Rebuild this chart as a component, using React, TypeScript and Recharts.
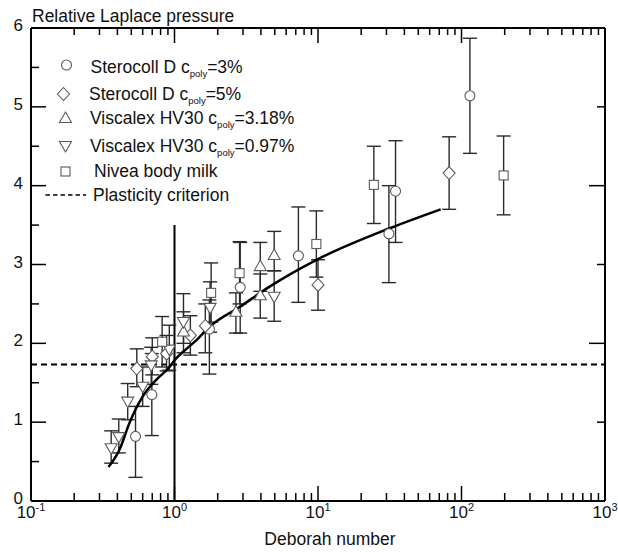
import React from 'react';
import {
  ComposedChart,
  Scatter,
  Line,
  XAxis,
  YAxis,
  ErrorBar,
  ReferenceLine,
  Legend,
} from 'recharts';

// ---------- data ----------
// Sterocoll D c_poly = 3% (circles)
const stero3X = [0.535, 0.695, 1.75, 2.87, 7.3, 31.2, 34.7, 114.5];
const stero3Y = [0.82, 1.35, 2.18, 2.71, 3.11, 3.39, 3.93, 5.14];
const stero3Lo = [0.3, 0.83, 1.61, 2.13, 2.52, 2.77, 3.28, 4.41];
const stero3Hi = [1.2, 1.87, 2.55, 3.28, 3.73, 4.0, 4.57, 5.87];

// Sterocoll D c_poly = 5% (diamonds)
const stero5X = [0.546, 0.7, 0.88, 1.29, 1.64, 10.0, 82];
const stero5Y = [1.68, 1.83, 1.87, 2.1, 2.22, 2.74, 4.16];
const stero5Lo = [1.45, 1.6, 1.65, 1.85, 1.88, 2.42, 3.7];
const stero5Hi = [1.93, 2.07, 2.1, 2.35, 2.5, 3.06, 4.62];

// Viscalex HV30 c_poly = 3.18% (up triangles)
const visc318X = [1.155, 2.68, 3.96, 3.96, 4.95];
const visc318Y = [2.15, 2.4, 2.98, 2.61, 3.12];
const visc318Lo = [1.88, 2.13, 2.66, 2.32, 2.92];
const visc318Hi = [2.4, 2.64, 3.28, 2.88, 3.42];

// Viscalex HV30 c_poly = 0.97% (down triangles)
const visc097X = [0.362, 0.409, 0.472, 0.6, 0.688, 0.92, 1.155, 1.77, 4.95];
const visc097Y = [0.67, 0.81, 1.26, 1.45, 1.72, 1.92, 2.27, 2.45, 2.59];
const visc097Lo = [0.48, 0.61, 1.03, 1.2, 1.48, 1.66, 2.0, 2.14, 2.28];
const visc097Hi = [0.89, 1.04, 1.49, 1.7, 1.95, 2.23, 2.63, 2.78, 2.92];

// Nivea body milk (squares)
const niveaX = [0.82, 1.8, 2.84, 9.74, 24.5, 196.6];
const niveaY = [2.02, 2.64, 2.89, 3.26, 4.01, 4.13];
const niveaLo = [1.7, 2.27, 2.5, 2.84, 3.52, 3.63];
const niveaHi = [2.34, 3.02, 3.29, 3.68, 4.5, 4.63];

// fitted curve
const fitX = [0.3465, 0.4136, 0.4855, 0.598, 0.749, 0.923, 0.984, 1.212, 1.423, 1.754, 2.84, 4.6, 9.78, 31.6, 71.6];
const fitY = [0.43, 0.65, 0.99, 1.32, 1.54, 1.7, 1.77, 1.93, 2.04, 2.21, 2.46, 2.72, 3.06, 3.46, 3.7];

// plasticity criterion and De = 1 line
const plasticityCriterion = 1.73;
const deborahOne = 1;
const deborahOneTop = 3.5;

// ticks
const xMajor = [0.1, 1, 10, 100, 1000];
const xMinorMultipliers = [2, 3, 4, 5, 6, 7, 8, 9];
const yLeftTicks = [0, 0.5, 1, 1.5, 2, 2.5, 3, 3.5, 4, 4.5, 5, 5.5, 6];
const yRightTicks = [0, 1, 2, 3, 4, 5, 6];

const xTicks: number[] = [];
xMajor.forEach((d, i) => {
  xTicks.push(d);
  if (i < xMajor.length - 1) xMinorMultipliers.forEach((m) => xTicks.push(+(d * m).toPrecision(3)));
});

const mk = (xs: number[], ys: number[], lo: number[], hi: number[]) =>
  xs.map((x, i) => ({ x, y: ys[i], err: [ys[i] - lo[i], hi[i] - ys[i]] }));

const stero3 = mk(stero3X, stero3Y, stero3Lo, stero3Hi);
const stero5 = mk(stero5X, stero5Y, stero5Lo, stero5Hi);
const visc318 = mk(visc318X, visc318Y, visc318Lo, visc318Hi);
const visc097 = mk(visc097X, visc097Y, visc097Lo, visc097Hi);
const nivea = mk(niveaX, niveaY, niveaLo, niveaHi);
const fit = fitX.map((x, i) => ({ x, y: fitY[i] }));

// ---------- styles ----------
const FONT = '"Liberation Sans", Arial, sans-serif';
const MARK = '#5a5a5a';
const ERR = '#2a2a2a';
const TXT = '#111';

const isMajorX = (v: number) => Math.abs(Math.log10(v) - Math.round(Math.log10(v))) < 1e-6;

// ---------- marker shapes ----------
const circleShape = (cx: number, cy: number) => (
  <circle cx={cx} cy={cy} r={5} fill="#fff" stroke={MARK} strokeWidth={1.1} />
);
const diamondShape = (cx: number, cy: number) => (
  <path d={`M${cx},${cy - 6.5}L${cx + 6},${cy}L${cx},${cy + 6.5}L${cx - 6},${cy}Z`} fill="#fff" stroke={MARK} strokeWidth={1.1} />
);
const upShape = (cx: number, cy: number) => (
  <path d={`M${cx},${cy - 6}L${cx + 6},${cy + 4.5}L${cx - 6},${cy + 4.5}Z`} fill="#fff" stroke={MARK} strokeWidth={1.1} />
);
const downShape = (cx: number, cy: number) => (
  <path d={`M${cx},${cy + 6}L${cx + 6},${cy - 4.5}L${cx - 6},${cy - 4.5}Z`} fill="#fff" stroke={MARK} strokeWidth={1.1} />
);
const squareShape = (cx: number, cy: number) => (
  <rect x={cx - 4.5} y={cy - 4.5} width={9} height={9} fill="#fff" stroke={MARK} strokeWidth={1.1} />
);

const shapeOf = (fn: (cx: number, cy: number) => React.ReactElement) => (p: any) => fn(p.cx, p.cy);

// ---------- ticks ----------
const BottomTick = (props: any) => {
  const { x, y, payload } = props;
  const v = payload.value;
  const major = isMajorX(v);
  const e = Math.round(Math.log10(v));
  return (
    <g>
      <line x1={x} x2={x} y1={y} y2={y - (major ? 15 : 8)} stroke="#000" strokeWidth={1.5} />
      {major && (
        <text x={x} y={y + 17} textAnchor="middle" fontFamily={FONT} fontSize={17} fill={TXT}>
          10
          <tspan dy={-7} fontSize={11}>
            {e}
          </tspan>
        </text>
      )}
    </g>
  );
};

const TopTick = (props: any) => {
  const { x, y, payload } = props;
  const major = isMajorX(payload.value);
  return <line x1={x} x2={x} y1={y} y2={y + (major ? 15 : 7)} stroke="#000" strokeWidth={1.5} />;
};

const LeftTick = (props: any) => {
  const { x, y, payload } = props;
  const v = payload.value;
  const major = Number.isInteger(v);
  return (
    <g>
      <line x1={x} x2={x + (major ? 15 : 8)} y1={y} y2={y} stroke="#000" strokeWidth={1.5} />
      {major && (
        <text x={x - 8} y={y + 3} textAnchor="end" fontFamily={FONT} fontSize={17} fill={TXT}>
          {v}
        </text>
      )}
    </g>
  );
};

const RightTick = (props: any) => {
  const { x, y, payload } = props;
  const v = payload.value;
  const major = v % 2 === 0;
  return <line x1={x} x2={x - (major ? 16 : 8)} y1={y} y2={y} stroke="#000" strokeWidth={1.5} />;
};

// ---------- legend ----------
const Sub = ({ children }: { children: React.ReactNode }) => (
  <tspan dy={4} fontSize={9.5}>
    {children}
  </tspan>
);

const LegendBox = () => (
  <svg width={300} height={215} style={{ display: 'block' }}>
    <g fontFamily={FONT} fontSize={17.5} fill={TXT}>
      {circleShape(66.5, 65)}
      <text x={90.5} y={73}>
        Sterocoll D c<Sub>poly</Sub>
        <tspan dy={-4}>=3%</tspan>
      </text>
      {diamondShape(63.5, 94)}
      <text x={89} y={100}>
        Sterocoll D c<Sub>poly</Sub>
        <tspan dy={-4}>=5%</tspan>
      </text>
      {upShape(65.5, 118)}
      <text x={90} y={124}>
        Viscalex HV30 c<Sub>poly</Sub>
        <tspan dy={-4}>=3.18%</tspan>
      </text>
      {downShape(65.5, 146)}
      <text x={90} y={152}>
        Viscalex HV30 c<Sub>poly</Sub>
        <tspan dy={-4}>=0.97%</tspan>
      </text>
      {squareShape(65.5, 171.5)}
      <text x={94} y={177}>
        Nivea body milk
      </text>
      <line x1={45.5} x2={86} y1={195} y2={195} stroke="#000" strokeWidth={1.6} strokeDasharray="4.5 3" />
      <text x={93} y={201}>
        Plasticity criterion
      </text>
    </g>
  </svg>
);

const YTitle = (props: any) => {
  const vb = props.viewBox || { x: 0, y: 28, width: 31 };
  return (
    <text x={vb.x + vb.width + 1} y={vb.y - 6} fontFamily={FONT} fontSize={17.5} fill={TXT}>
      Relative Laplace pressure
    </text>
  );
};

const XTitle = (props: any) => {
  const vb = props.viewBox || { x: 31, y: 501, width: 574 };
  return (
    <text x={330} y={vb.y + 44} textAnchor="middle" fontFamily={FONT} fontSize={17.5} fill={TXT}>
      Deborah number
    </text>
  );
};

export default function App() {
  const errProps = { direction: 'y' as const, width: 7, stroke: ERR, strokeWidth: 1.4 };
  return (
    <div style={{ position: 'absolute', left: 0, top: 0, width: 618, height: 552, background: '#fff' }}>
      <ComposedChart width={618} height={552} margin={{ top: 0, right: 0, bottom: 0, left: 0 }}>
        <XAxis
          xAxisId={0}
          dataKey="x"
          type="number"
          scale="log"
          domain={[0.1, 1000]}
          allowDataOverflow
          ticks={xTicks}
          interval={0}
          height={51}
          tickSize={0}
          tickMargin={0}
          tickLine={false}
          tick={<BottomTick />}
          axisLine={{ stroke: '#000', strokeWidth: 2 }}
          label={<XTitle />}
        />
        <XAxis
          xAxisId="top"
          orientation="top"
          dataKey="x"
          type="number"
          scale="log"
          domain={[0.1, 1000]}
          allowDataOverflow
          ticks={xTicks}
          interval={0}
          height={28}
          tickSize={0}
          tickMargin={0}
          tickLine={false}
          tick={<TopTick />}
          axisLine={{ stroke: '#000', strokeWidth: 2 }}
        />
        <YAxis
          yAxisId={0}
          type="number"
          domain={[0, 6]}
          allowDataOverflow
          ticks={yLeftTicks}
          interval={0}
          width={31}
          tickSize={0}
          tickMargin={0}
          tickLine={false}
          tick={<LeftTick />}
          axisLine={{ stroke: '#000', strokeWidth: 2 }}
          label={<YTitle />}
        />
        <YAxis
          yAxisId="right"
          orientation="right"
          type="number"
          domain={[0, 6]}
          allowDataOverflow
          ticks={yRightTicks}
          interval={0}
          width={13}
          tickSize={0}
          tickMargin={0}
          tickLine={false}
          tick={<RightTick />}
          axisLine={{ stroke: '#000', strokeWidth: 2 }}
        />

        <ReferenceLine y={plasticityCriterion} stroke="#000" strokeWidth={2} strokeDasharray="6 4" />
        <ReferenceLine
          segment={[
            { x: deborahOne, y: 0 },
            { x: deborahOne, y: deborahOneTop },
          ]}
          stroke="#000"
          strokeWidth={2}
        />

        <Scatter data={stero3} dataKey="y" shape={shapeOf(circleShape)} isAnimationActive={false}>
          <ErrorBar dataKey="err" {...errProps} />
        </Scatter>
        <Scatter data={stero5} dataKey="y" shape={shapeOf(diamondShape)} isAnimationActive={false}>
          <ErrorBar dataKey="err" {...errProps} />
        </Scatter>
        <Scatter data={visc318} dataKey="y" shape={shapeOf(upShape)} isAnimationActive={false}>
          <ErrorBar dataKey="err" {...errProps} />
        </Scatter>
        <Scatter data={visc097} dataKey="y" shape={shapeOf(downShape)} isAnimationActive={false}>
          <ErrorBar dataKey="err" {...errProps} />
        </Scatter>
        <Scatter data={nivea} dataKey="y" shape={shapeOf(squareShape)} isAnimationActive={false}>
          <ErrorBar dataKey="err" {...errProps} />
        </Scatter>

        <Line
          data={fit}
          dataKey="y"
          type="monotone"
          stroke="#000"
          strokeWidth={2.5}
          dot={false}
          activeDot={false}
          isAnimationActive={false}
        />

        <Legend
          content={<LegendBox />}
          layout="vertical"
          align="center"
          verticalAlign="middle"
          wrapperStyle={{ left: 0, top: 0, width: 300, height: 215 }}
        />
      </ComposedChart>
    </div>
  );
}
